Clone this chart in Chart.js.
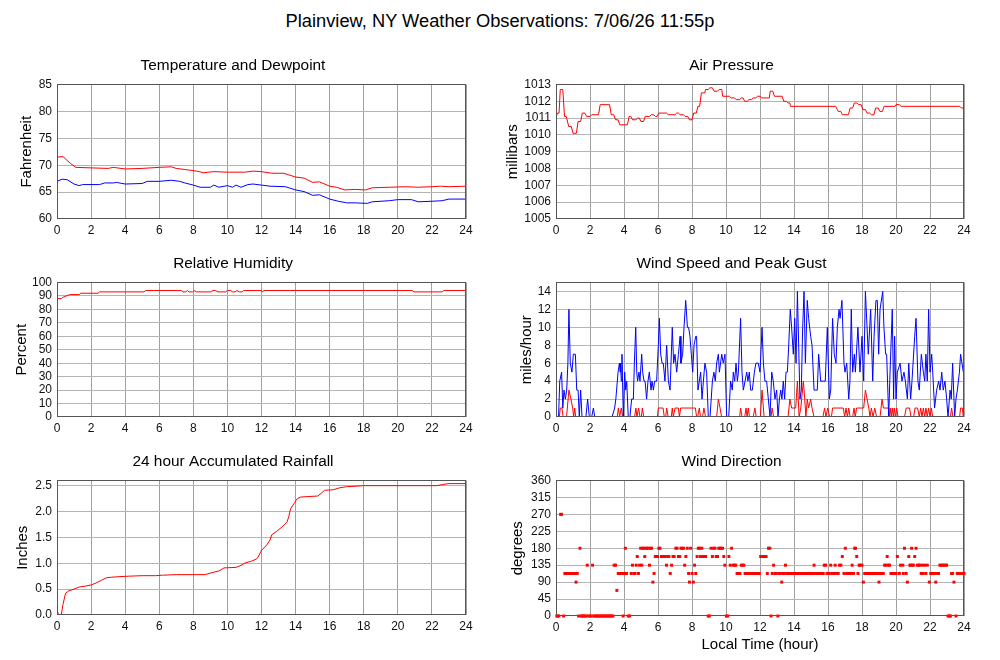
<!DOCTYPE html>
<html>
<head>
<meta charset="utf-8">
<script src="https://cdn.jsdelivr.net/npm/chart.js@4.4.1/dist/chart.umd.min.js"></script>
<style>
  body { margin: 0; background: #fff; width: 1000px; height: 660px; overflow: hidden; position: relative; }
  canvas { position: absolute; }
  #title { position: absolute; left: 0; width: 1000px; top: 10px; text-align: center;
           font: 18.3px 'Liberation Sans', Arial, sans-serif; color: #000; }
</style>
</head>
<body>
<div id="title">Plainview, NY Weather Observations: 7/06/26 11:55p</div>
<canvas id="temp"  width="480" height="183" style="left:0;top:56px"></canvas>
<canvas id="press" width="481" height="183" style="left:499px;top:56px"></canvas>
<canvas id="hum"   width="480" height="183" style="left:0;top:254px"></canvas>
<canvas id="wind"  width="481" height="183" style="left:499px;top:254px"></canvas>
<canvas id="rain"  width="480" height="183" style="left:0;top:452px"></canvas>
<canvas id="dir"   width="481" height="208" style="left:499px;top:452px"></canvas>
<script>
// ---- data (hour of day, value) ----
const tempHours = [0,0.35,0.8,1.1,2,3,3.3,4,5,6,6.7,7,7.5,8.2,8.6,9.2,10,11,11.5,12,12.6,13.3,14,14.5,15,15.4,16,16.4,16.9,17.5,18.1,18.5,19.5,20.5,21.2,22,22.5,23,24];
const tempF = [71.5,71.6,70.3,69.6,69.5,69.4,69.6,69.3,69.4,69.6,69.7,69.4,69.2,68.9,68.6,68.8,68.7,68.7,68.9,68.8,68.5,68.5,67.8,67.6,66.8,66.9,66.1,65.9,65.4,65.5,65.4,65.8,65.9,66.0,65.9,66.0,66.1,66.0,66.1];

const dewHours = [0,0.3,0.6,1,1.3,1.5,2.5,2.8,3.3,3.5,4,5,5.3,6,6.7,7.2,7.5,8,8.4,9,9.2,9.5,10,10.3,10.5,10.8,11.2,11.5,12,12.5,13.4,14,14.5,15,15.4,16,16.5,17,17.5,18.2,18.5,19.5,20,20.8,21.2,22,22.6,23,24];
const dewF = [67.0,67.4,67.3,66.5,66.2,66.4,66.4,66.7,66.7,66.8,66.5,66.6,67.0,67.0,67.2,67.0,66.7,66.3,65.9,65.9,66.3,65.9,66.2,65.9,66.3,65.9,66.4,66.5,66.3,66.1,66.0,65.4,65.1,64.4,64.5,63.7,63.3,63.0,63.0,62.9,63.2,63.4,63.6,63.6,63.2,63.3,63.4,63.7,63.7];

const pressHours = [0,0.08,0.18,0.25,0.4,0.5,0.6,0.75,0.9,1.0,1.2,1.3,1.45,1.55,1.7,1.8,2.0,2.1,2.5,2.6,3.15,3.25,3.4,3.5,3.65,3.75,4.2,4.3,4.4,4.5,4.7,4.8,4.9,5.0,5.15,5.25,5.5,5.6,5.75,5.85,5.95,6.05,6.5,6.6,7.0,7.1,7.2,7.3,7.5,7.6,7.75,7.85,8.0,8.1,8.25,8.35,8.45,8.55,8.75,8.8,8.95,9.05,9.2,9.3,9.5,9.6,9.75,9.8,10.2,10.3,10.5,10.6,10.8,10.9,11.0,11.1,11.25,11.35,11.5,11.6,11.75,11.85,12.0,12.1,12.55,12.6,12.75,12.85,13.3,13.4,13.55,13.65,13.75,13.8,16.45,16.6,16.75,16.85,17.2,17.3,17.45,17.55,17.7,17.8,17.95,18.05,18.2,18.3,18.45,18.55,18.7,18.8,18.95,19.05,19.2,19.3,19.95,20.0,20.2,20.3,23.75,23.85,24];
const pressMb = [1011.0,1011.3,1011.3,1012.7,1012.7,1011.1,1011.1,1010.5,1010.5,1010.1,1010.1,1010.8,1010.8,1011.3,1011.3,1011.1,1011.1,1011.2,1011.2,1011.8,1011.8,1011.2,1011.2,1010.9,1010.9,1010.6,1010.6,1011.1,1011.1,1010.9,1010.9,1011.0,1011.0,1010.8,1010.8,1011.1,1011.1,1011.2,1011.2,1011.1,1011.1,1011.3,1011.3,1011.2,1011.2,1011.3,1011.3,1011.2,1011.2,1011.1,1011.1,1010.9,1010.9,1011.3,1011.3,1011.7,1011.7,1012.5,1012.5,1012.7,1012.7,1012.8,1012.8,1012.6,1012.6,1012.7,1012.7,1012.3,1012.3,1012.2,1012.2,1012.1,1012.1,1012.2,1012.2,1012.0,1012.0,1012.1,1012.1,1012.2,1012.2,1012.3,1012.3,1012.2,1012.2,1012.6,1012.6,1012.3,1012.3,1012.0,1012.0,1011.9,1011.9,1011.7,1011.7,1011.4,1011.4,1011.2,1011.2,1011.6,1011.6,1011.9,1011.9,1011.8,1011.8,1011.5,1011.5,1011.3,1011.3,1011.2,1011.2,1011.6,1011.6,1011.4,1011.4,1011.7,1011.7,1011.8,1011.8,1011.7,1011.7,1011.6,1011.6];

const humHours = [0,0.25,0.35,0.55,0.75,1.3,1.4,2.4,2.5,5.1,5.2,7.3,7.4,7.55,7.65,7.75,7.95,8.05,8.2,9.0,9.15,9.3,9.45,9.9,10.0,10.2,10.3,10.45,10.55,10.7,10.85,10.95,12.0,12.05,12.15,20.85,20.95,22.6,22.7,24];
const humPct = [88,88,89,90,91,91,92,92,93,93,94,94,93,93,94,93,93,94,93,93,94,94,93,93,94,94,93,93,94,93,93,94,94,93,94,94,93,93,94,94];

const windHours = [0,0.15,0.22,0.33,0.4,0.47,0.55,0.63,0.7,0.76,0.84,0.94,1.02,1.14,1.22,1.3,1.37,1.45,1.53,1.76,1.86,1.96,2.1,2.2,2.28,3.3,3.45,3.52,3.65,3.73,3.77,3.8,3.84,3.88,3.96,4.04,4.1,4.16,4.25,4.35,4.45,4.55,4.61,4.69,4.75,4.8,4.88,4.94,5.04,5.1,5.18,5.24,5.33,5.41,5.49,5.59,5.65,5.73,5.8,5.92,6.02,6.08,6.16,6.24,6.31,6.41,6.51,6.61,6.71,6.76,6.84,6.92,7.0,7.1,7.2,7.3,7.35,7.45,7.53,7.63,7.73,7.8,7.88,7.96,8.04,8.12,8.22,8.27,8.35,8.43,8.51,8.59,8.67,8.76,8.86,8.96,9.06,9.2,9.29,9.37,9.45,9.55,9.61,9.75,9.84,9.94,10.04,10.16,10.27,10.37,10.43,10.51,10.59,10.67,10.73,10.86,10.94,11.02,11.12,11.22,11.29,11.37,11.45,11.55,11.67,11.76,11.9,12.0,12.12,12.2,12.29,12.39,12.49,12.59,12.69,12.78,12.88,12.98,13.06,13.14,13.22,13.29,13.37,13.45,13.53,13.61,13.69,13.78,13.86,13.96,14.04,14.12,14.2,14.35,14.43,14.51,14.59,14.67,14.78,14.86,14.98,15.06,15.18,15.37,15.45,15.57,15.73,15.84,15.96,16.08,16.16,16.27,16.37,16.47,16.55,16.65,16.71,16.82,16.94,17.0,17.1,17.22,17.29,17.37,17.45,17.55,17.61,17.76,17.88,18.0,18.1,18.2,18.37,18.51,18.63,18.71,18.82,18.9,18.98,19.06,19.22,19.29,19.39,19.45,19.57,19.65,19.78,19.86,19.92,20.0,20.08,20.24,20.35,20.47,20.55,20.67,20.75,20.86,20.94,21.1,21.18,21.29,21.37,21.49,21.61,21.69,21.76,21.84,21.92,22.0,22.1,22.16,22.27,22.39,22.51,22.59,22.69,22.78,22.88,22.98,23.06,23.18,23.25,23.33,23.45,23.53,23.61,23.73,23.8,23.88,23.96];
const windMph = [0,0,4,5,1,3,2,3,6,12,6,5,7,7,3,3,0,3,0,0,2,0,0,1,0,0,1,2,5,6,5,6,4,7,0,5,3,4,0,0,2,2,6,10,5,4,5,4,7,5,4,4,2,4,5,3,4,3,4,4,8,11,7,6,6,4,8,4,3,3,10,6,7,5,7,9,6,7,10,13,10,10,9,7,5,8,9,9,3,4,5,2,4,6,5,0,0,4,5,4,6,7,5,7,6,7,0,0,4,3,5,4,6,4,5,11,5,3,4,5,4,5,3,3,5,6,6,5,10,6,4,4,2,0,5,4,2,3,0,2,3,2,4,2,5,5,8,12,10,7,11,6,14,2,3,10,14,6,13,11,9,8,3,3,7,4,4,4,10,2,3,11,7,6,10,12,11,13,6,5,6,2,4,12,5,7,5,10,5,9,4,14,7,12,4,9,13,13,7,12,14,10,7,7,0,5,12,2,9,2,5,6,4,5,4,2,6,2,4,9,11,4,3,7,5,4,7,4,12,5,7,5,1,3,4,3,5,3,4,2,0,3,2,6,0,2,3,5,7,6,5];

const gustHours = [0,0.2,0.25,0.35,0.42,0.62,0.76,0.88,0.98,1.04,1.1,1.16,3.6,3.67,3.74,3.84,3.92,4.62,4.7,4.76,4.86,4.94,5.02,5.08,5.16,5.96,6.02,6.3,6.37,6.45,6.51,6.6,6.78,6.84,6.9,7.0,7.2,7.26,7.33,8.2,8.27,8.33,8.43,8.5,8.62,8.7,8.8,9.45,9.55,9.65,9.74,10.8,10.86,10.94,11.1,11.18,11.24,11.31,11.38,11.6,11.7,11.78,12.02,12.12,12.24,12.65,12.71,12.8,13.65,13.76,13.86,14.1,14.2,14.3,14.4,14.55,14.63,14.7,14.78,14.86,14.98,15.06,15.18,15.7,15.8,15.88,15.98,16.1,16.2,16.27,16.9,16.98,17.06,17.14,17.22,17.3,17.45,17.53,17.6,17.68,18.1,18.2,18.4,18.47,18.55,18.65,18.75,18.86,19.06,19.18,19.26,19.55,19.6,19.66,19.72,19.78,19.84,19.9,19.96,20.04,20.12,20.5,20.6,20.8,20.88,21.04,21.12,21.27,21.37,21.45,21.53,21.61,21.69,21.76,21.84,21.92,22.0,22.08,22.16,23.2,23.27,23.35,23.74,23.8,23.9,23.96];
const gustMph = [0,0,1,1,0,0,3,2,1,0,1,0,0,1,0,1,0,0,1,0,1,0,0,1,0,0,1,1,0,0,1,0,0,1,0,1,1,0,1,1,0,0,1,0,0,1,0,0,2,1,0,0,1,0,0,1,0,1,0,0,1,0,0,3,0,0,1,0,0,2,1,1,4,0,1,4,2,0,2,1,2,1,0,0,1,0,1,0,0,1,1,0,1,0,1,0,0,1,0,1,1,3,1,0,1,0,1,0,0,2,1,1,0,1,0,1,0,1,0,1,0,0,1,1,0,0,1,1,0,1,0,1,0,1,0,1,0,1,0,0,1,0,0,1,1,0];

const rainHours = [0,0.05,0.25,0.35,0.5,0.7,1.0,1.3,1.7,2.0,2.3,2.6,2.9,3.2,3.6,4.2,5,5.8,6.2,7,8.7,9.1,9.5,9.8,10.5,10.8,11.0,11.4,11.7,11.8,12.0,12.3,12.5,12.6,12.9,13.2,13.5,13.6,13.7,13.9,14.1,14.3,14.8,15.3,15.5,15.7,16.2,16.6,17.0,17.6,18,22.3,22.6,23.0,24];
const rainIn = [0.05,0.0,0.0,0.2,0.42,0.47,0.5,0.54,0.56,0.58,0.62,0.67,0.72,0.73,0.74,0.75,0.76,0.76,0.77,0.78,0.78,0.82,0.85,0.91,0.92,0.96,1.0,1.04,1.08,1.12,1.25,1.35,1.45,1.55,1.62,1.7,1.8,1.9,2.05,2.15,2.25,2.28,2.29,2.3,2.35,2.41,2.42,2.46,2.48,2.49,2.5,2.5,2.52,2.54,2.54];

const dirHours = [0.05,0.1,0.17,0.27,0.33,0.45,0.52,0.58,0.65,0.72,0.8,0.87,0.95,1.02,1.1,1.18,1.25,1.33,1.41,1.48,1.55,1.62,1.7,1.77,1.84,1.92,2.0,2.07,2.15,2.22,2.3,2.38,2.45,2.53,2.6,2.68,2.75,2.83,2.9,2.98,3.05,3.13,3.2,3.28,3.35,3.42,3.5,3.58,3.66,3.73,3.8,3.88,3.95,4.02,4.08,4.15,4.25,4.33,4.42,4.5,4.58,4.65,4.72,4.78,4.85,4.92,4.98,5.05,5.1,5.15,5.22,5.28,5.35,5.42,5.5,5.55,5.62,5.7,5.77,5.84,5.9,5.97,6.05,6.12,6.2,6.28,6.35,6.42,6.5,6.57,6.64,6.72,6.8,6.88,6.95,7.05,7.12,7.2,7.28,7.35,7.42,7.5,7.57,7.64,7.72,7.8,7.85,7.92,8.0,8.08,8.15,8.22,8.3,8.37,8.44,8.5,8.58,8.65,8.72,8.8,8.95,9.02,9.12,9.2,9.27,9.35,9.42,9.5,9.57,9.65,9.72,9.8,9.87,9.93,10.02,10.1,10.17,10.25,10.33,10.42,10.5,10.57,10.65,10.73,10.82,10.9,10.98,11.05,11.12,11.2,11.28,11.35,11.42,11.5,11.58,11.65,11.73,11.8,11.88,11.96,12.04,12.12,12.2,12.28,12.36,12.43,12.5,12.58,12.65,12.72,12.8,12.88,12.96,13.05,13.12,13.2,13.28,13.35,13.43,13.5,13.58,13.66,13.74,13.82,13.9,13.98,14.06,14.14,14.22,14.3,14.38,14.46,14.54,14.62,14.7,14.78,14.86,14.94,15.02,15.1,15.18,15.26,15.34,15.42,15.5,15.58,15.65,15.72,15.78,15.86,15.94,16.02,16.08,16.16,16.24,16.35,16.42,16.5,16.6,16.68,16.76,16.84,16.94,17.02,17.1,17.18,17.26,17.35,17.42,17.5,17.57,17.62,17.69,17.76,17.83,17.9,18.0,18.08,18.16,18.24,18.32,18.4,18.48,18.56,18.64,18.72,18.8,18.92,19.0,19.08,19.16,19.25,19.33,19.41,19.48,19.55,19.62,19.7,19.78,19.86,19.94,20.0,20.08,20.2,20.27,20.4,20.43,20.5,20.6,20.67,20.75,20.82,20.86,20.92,20.98,21.02,21.1,21.18,21.26,21.34,21.4,21.48,21.55,21.6,21.68,21.76,21.84,21.96,22.04,22.12,22.2,22.27,22.34,22.4,22.5,22.58,22.66,22.74,22.82,22.9,22.98,23.06,23.14,23.2,23.27,23.33,23.41,23.53,23.6,23.68,23.76,23.84,23.92,24.0];
const dirDeg = [0,0,0,270,270,0,113,113,113,113,113,113,113,113,113,90,113,0,180,0,0,0,0,0,135,0,0,0,135,0,0,0,0,0,0,0,0,0,0,0,0,0,0,0,0,135,135,68,113,113,113,113,0,113,180,113,0,0,113,135,113,113,135,158,113,135,180,135,180,180,158,180,180,180,135,180,180,90,113,158,158,158,180,180,158,158,158,158,135,158,158,113,135,158,158,180,180,158,158,180,180,180,135,158,180,113,90,180,113,90,135,113,158,180,180,158,180,158,158,158,0,0,180,158,180,180,158,158,180,180,180,180,158,135,0,0,158,135,180,135,135,135,113,113,113,135,135,135,113,113,113,113,113,113,113,113,113,113,113,113,158,158,158,158,158,113,180,180,0,113,135,113,113,0,113,113,90,113,113,135,113,113,113,113,113,113,113,113,113,113,113,113,113,113,113,113,113,113,113,113,135,113,113,113,113,113,113,113,135,135,113,113,113,135,113,113,135,113,113,135,135,158,113,180,113,113,113,113,135,113,180,180,158,113,135,135,135,90,113,113,113,113,113,113,113,113,113,113,90,113,113,113,135,135,158,135,135,113,113,113,113,113,158,113,135,135,113,180,113,90,158,135,135,180,135,135,158,180,135,135,135,113,135,113,135,113,135,90,113,113,113,113,90,113,113,135,135,135,135,135,135,0,0,0,113,113,90,0,113,113,113,113,113,113,113];

const hourTicks = [0, 24, 2];

// ---- drawing ----
Chart.defaults.font.family = "'Liberation Sans', Arial, sans-serif";
Chart.defaults.font.size = 12;
Chart.defaults.color = '#111';

const frame = {
  id: 'frame',
  afterDatasetsDraw(chart) {
    const { ctx, chartArea: a } = chart;
    ctx.save();
    ctx.strokeStyle = '#555';
    ctx.lineWidth = 1;
    ctx.strokeRect(Math.round(a.left) + 0.5, Math.round(a.top) + 0.5,
                   Math.round(a.right - a.left) - 1, Math.round(a.bottom - a.top) - 1);
    ctx.restore();
  }
};

function pts(xs, ys) {
  return xs.map((x, i) => ({ x: x, y: ys[i] }));
}

function line(xs, ys, color) {
  return { data: pts(xs, ys), borderColor: color, borderWidth: 1, pointRadius: 0, tension: 0 };
}

function panel(id, title, yTitle, yTitlePad, y, datasets, xTitle) {
  const xAxisH = xTitle ? 44 : 20;
  return new Chart(document.getElementById(id), {
    type: 'line',
    data: { datasets: datasets },
    plugins: [frame],
    options: {
      responsive: false,
      animation: false,
      layout: { padding: { left: 0, right: id === 'temp' || id === 'hum' || id === 'rain' ? 14 : 16, top: 0, bottom: 0 } },
      plugins: {
        legend: { display: false },
        tooltip: { enabled: false },
        title: { display: true, text: title, font: { size: 15.4, weight: 'normal' }, color: '#000', padding: { top: 1, bottom: 9 } }
      },
      scales: {
        x: {
          type: 'linear', min: hourTicks[0], max: hourTicks[1],
          ticks: { stepSize: hourTicks[2], padding: 4, maxRotation: 0, autoSkip: false },
          grid: { color: '#a0a0a0', drawTicks: false },
          border: { display: false },
          title: { display: !!xTitle, text: xTitle, font: { size: 15 }, color: '#000', padding: { top: 2, bottom: 6 } },
          afterFit: s => { s.height = xAxisH; }
        },
        y: {
          min: y.min, max: y.max,
          ticks: { stepSize: y.step, padding: 5, includeBounds: false, autoSkip: false, callback: y.fmt || (v => String(v)) },
          grid: { color: '#b4b4b4', drawTicks: false },
          border: { display: false },
          title: { display: true, text: yTitle, font: { size: 15 }, color: '#000', padding: { top: yTitlePad, bottom: 0 } },
          afterFit: s => { s.width = 57; }
        }
      }
    }
  });
}

panel('temp', 'Temperature and Dewpoint', 'Fahrenheit', 18, { min: 60, max: 85, step: 5 },
  [line(tempHours, tempF, '#ff0000'), line(dewHours, dewF, '#0000ff')]);

panel('press', 'Air Pressure', 'millibars', 5, { min: 1005, max: 1013, step: 1 },
  [line(pressHours, pressMb, '#ff0000')]);

panel('hum', 'Relative Humidity', 'Percent', 13, { min: 0, max: 100, step: 10 },
  [line(humHours, humPct, '#ff0000')]);

panel('wind', 'Wind Speed and Peak Gust', 'miles/hour', 19, { min: 0, max: 15, step: 2 },
  [line(windHours, windMph, '#0000ff'), line(gustHours, gustMph, '#ff0000')]);

panel('rain', '24 hour Accumulated Rainfall', 'Inches', 14, { min: 0, max: 2.6, step: 0.5, fmt: v => v.toFixed(1) },
  [line(rainHours, rainIn, '#ff0000')]);

panel('dir', 'Wind Direction', 'degrees', 10, { min: 0, max: 360, step: 45 },
  [{ data: pts(dirHours, dirDeg), showLine: false, pointStyle: 'rect', pointRadius: 2.1,
     pointBackgroundColor: '#ff0000', pointBorderWidth: 0, clip: false }],
  'Local Time (hour)');
</script>
</body>
</html>
